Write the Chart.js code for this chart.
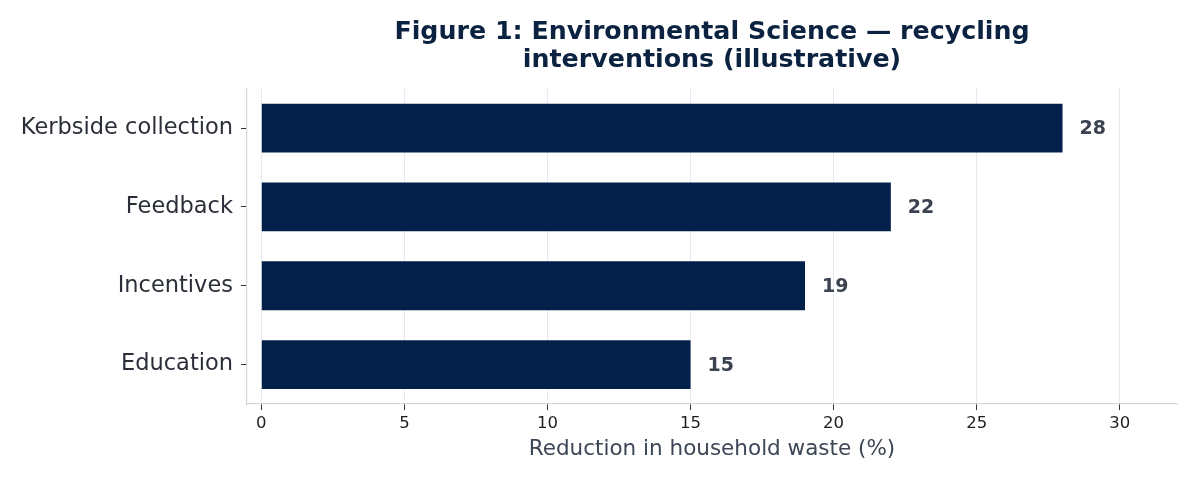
<!DOCTYPE html>
<html>
<head>
    <meta charset="utf-8">
    <script src="https://cdn.jsdelivr.net/npm/chart.js@4.4.1/dist/chart.umd.min.js"></script>
    <style>
        html, body {
            margin: 0;
            padding: 0;
            background: #ffffff;
        }

        .w {
            width: 1196px;
            height: 481px;
        }
    </style>
</head>

<body>
    <div class="w"><canvas id="chart" width="1196" height="481"></canvas></div>
    <script>
        // data
        const interventions = ["Kerbside collection", "Feedback", "Incentives", "Education"];
        const reduction = [28, 22, 19, 15];
        const xTicks = [0, 5, 10, 15, 20, 25, 30];

        const barColor = "#03204a";
        const fontFamily = "'DejaVu Sans', sans-serif";

        // writes the value just past the end of every bar
        const valueLabels = {
            id: "valueLabels",
            afterDatasetsDraw(chart) {
                const ctx = chart.ctx;
                const meta = chart.getDatasetMeta(0);
                ctx.save();
                ctx.font = "bold 19px " + fontFamily;
                ctx.fillStyle = "#3b4250";
                ctx.textAlign = "left";
                ctx.textBaseline = "middle";
                meta.data.forEach(function (bar, i) {
                    ctx.fillText(String(reduction[i]), bar.x + 17, bar.y + 1);
                });
                ctx.restore();
            }
        };

        const chart = new Chart(document.getElementById("chart").getContext("2d"), {
            type: "bar",
            data: {
                labels: interventions,
                datasets: [
                    {
                        data: reduction,
                        backgroundColor: barColor,
                        borderWidth: 0,
                        barPercentage: 0.62,
                        categoryPercentage: 1.0
                    }
                ]
            },
            options: {
                indexAxis: "y",
                responsive: false,
                animation: false,
                devicePixelRatio: 1,
                layout: {
                    padding: { top: 0, right: 19, bottom: 0, left: 0 }
                },
                plugins: {
                    legend: { display: false },
                    tooltip: { enabled: false },
                    title: {
                        display: true,
                        fullSize: false,
                        text: ["Figure 1: Environmental Science \u2014 recycling", "interventions (illustrative)"],
                        color: "#0b2340",
                        font: { family: fontFamily, size: 25.3, weight: "bold", lineHeight: 1.08 },
                        padding: { top: 19, bottom: 15 }
                    }
                },
                scales: {
                    x: {
                        min: -0.5,
                        max: 32,
                        afterBuildTicks: function (scale) {
                            scale.ticks = xTicks.map(v => ({ value: v }));
                        },
                        afterFit: function (scale) {
                            scale.height = 77;
                        },
                        grid: {
                            color: "#e6e9ee",
                            lineWidth: 1,
                            drawTicks: true,
                            tickLength: 6,
                            tickColor: "#333333"
                        },
                        border: { display: true, color: "#d3d7dd", width: 1.2 },
                        ticks: {
                            color: "#1e1e1e",
                            font: { family: fontFamily, size: 16.5 },
                            padding: 4,
                            maxRotation: 0
                        },
                        title: {
                            display: true,
                            text: "Reduction in household waste (%)",
                            color: "#3d4656",
                            font: { family: fontFamily, size: 21.5 },
                            padding: { top: 0, bottom: 19 }
                        }
                    },
                    y: {
                        afterFit: function (scale) {
                            scale.width = 247;
                        },
                        grid: {
                            offset: false,
                            drawOnChartArea: false,
                            drawTicks: true,
                            tickLength: 6,
                            tickColor: "#333333"
                        },
                        border: { display: true, color: "#d3d7dd", width: 1.2 },
                        ticks: {
                            color: "#2a2e38",
                            font: { family: fontFamily, size: 22.5 },
                            padding: 8
                        }
                    }
                }
            },
            plugins: [valueLabels]
        });
    </script>
</body>
</html>
